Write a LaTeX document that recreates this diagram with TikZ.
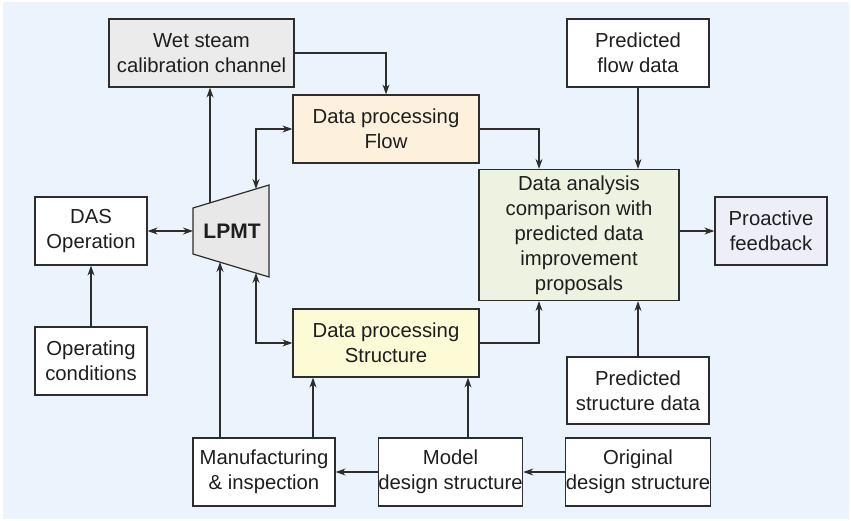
\documentclass[tikz,border=0pt]{standalone}
\usepackage{fontspec}
\setmainfont{Liberation Sans}
\usetikzlibrary{arrows.meta,calc}
\definecolor{bgblue}{RGB}{235,243,252}
\definecolor{edge}{RGB}{45,45,45}
\definecolor{txt}{RGB}{30,30,30}
\definecolor{wetfill}{RGB}{235,235,235}
\definecolor{flowfill}{RGB}{253,240,220}
\definecolor{structfill}{RGB}{253,250,214}
\definecolor{anafill}{RGB}{238,242,224}
\definecolor{profill}{RGB}{237,238,248}
\definecolor{lpmtfill}{RGB}{232,232,232}
\tikzset{
  box/.style={draw=edge, line width=1.2pt, fill=white, align=center, inner sep=0pt,
    text=txt, font=\fontsize{20.3}{25}\selectfont},
  arr/.style={draw=edge, line width=1.2pt, -{Stealth[length=10pt,width=7pt]}},
  darr/.style={draw=edge, line width=1.2pt, {Stealth[length=10pt,width=7pt]}-{Stealth[length=10pt,width=7pt]}},
}
\begin{document}
\begin{tikzpicture}[x=1pt,y=-1pt]
\useasboundingbox (0,0) rectangle (851,521);
\fill[bgblue] (3,2) rectangle (849,519);

% nodes (centre, width, height)
\node[box, fill=wetfill, minimum width=185pt, minimum height=68pt] (wet) at (201.5,53) {Wet steam\\calibration channel};
\node[box, fill=flowfill, minimum width=186pt, minimum height=68pt] (flow) at (386,129) {Data processing\\Flow};
\node[box, minimum width=142pt, minimum height=68pt] (pfd) at (638,53) {Predicted\\flow data};
\node[box, fill=anafill, minimum width=200pt, minimum height=131pt] (ana) at (579,235) {Data analysis\\comparison with\\predicted data\\improvement\\proposals};
\node[box, fill=profill, minimum width=112pt, minimum height=68pt] (pro) at (771,231) {Proactive\\feedback};
\node[box, minimum width=112pt, minimum height=68pt] (das) at (91,231) {DAS\\Operation};
\node[box, minimum width=112pt, minimum height=68pt] (op) at (91,361) {Operating\\conditions};
\node[box, fill=structfill, minimum width=186pt, minimum height=68pt] (struct) at (386,343) {Data processing\\Structure};
\node[box, minimum width=142pt, minimum height=67pt] (psd) at (638,390.5) {Predicted\\structure data};
\node[box, minimum width=142pt, minimum height=68pt] (man) at (264,472) {Manufacturing\\\& inspection};
\node[box, minimum width=143pt, minimum height=68pt] (model) at (450.5,472) {Model\\design structure};
\node[box, minimum width=142pt, minimum height=68pt] (orig) at (638,472) {Original\\design structure};

% LPMT trapezoid
\coordinate (tl) at (193,208);
\coordinate (tr) at (269,185);
\coordinate (br) at (269,277);
\coordinate (bl) at (193,254);
\draw[edge, line width=1.2pt, fill=lpmtfill, line join=miter] (tl) -- (tr) -- (br) -- (bl) -- cycle;
\node[text=txt, font=\fontsize{21}{25}\selectfont\bfseries] (lpmt) at (232,231) {LPMT};
\coordinate (lpT1) at (210,203);
\coordinate (lpT2) at (256,189);
\coordinate (lpB1) at (220,262);
\coordinate (lpB2) at (256,273);

% connectors
\draw[arr] (wet.east) -| (flow.north);
\draw[arr] (lpT1) -- (lpT1 |- wet.south);
\draw[darr] (lpT2) |- (flow.west);
\draw[darr] (das.east) -- (das.east -| tl);
\draw[arr] (op.north) -- (das.south);
\draw[arr] (lpB1 |- man.north) -- (lpB1);
\draw[darr] (lpB2) |- (struct.west);
\draw[arr] ([xshift=49pt]man.north) -- ([xshift=49pt]man.north |- struct.south);
\draw[arr] ([xshift=17.5pt]model.north) -- ([xshift=17.5pt]model.north |- struct.south);
\draw[arr] (orig.west) -- (model.east);
\draw[arr] (model.west) -- (man.east);
\draw[arr] (struct.east) -| ([xshift=-40pt]ana.south);
\draw[arr] (flow.east) -| ([xshift=-40pt]ana.north);
\draw[arr] (pfd.south) -- (pfd.south |- ana.north);
\draw[arr] (psd.north) -- (psd.north |- ana.south);
\draw[arr] (ana.east |- pro.west) -- (pro.west);
\end{tikzpicture}
\end{document}
